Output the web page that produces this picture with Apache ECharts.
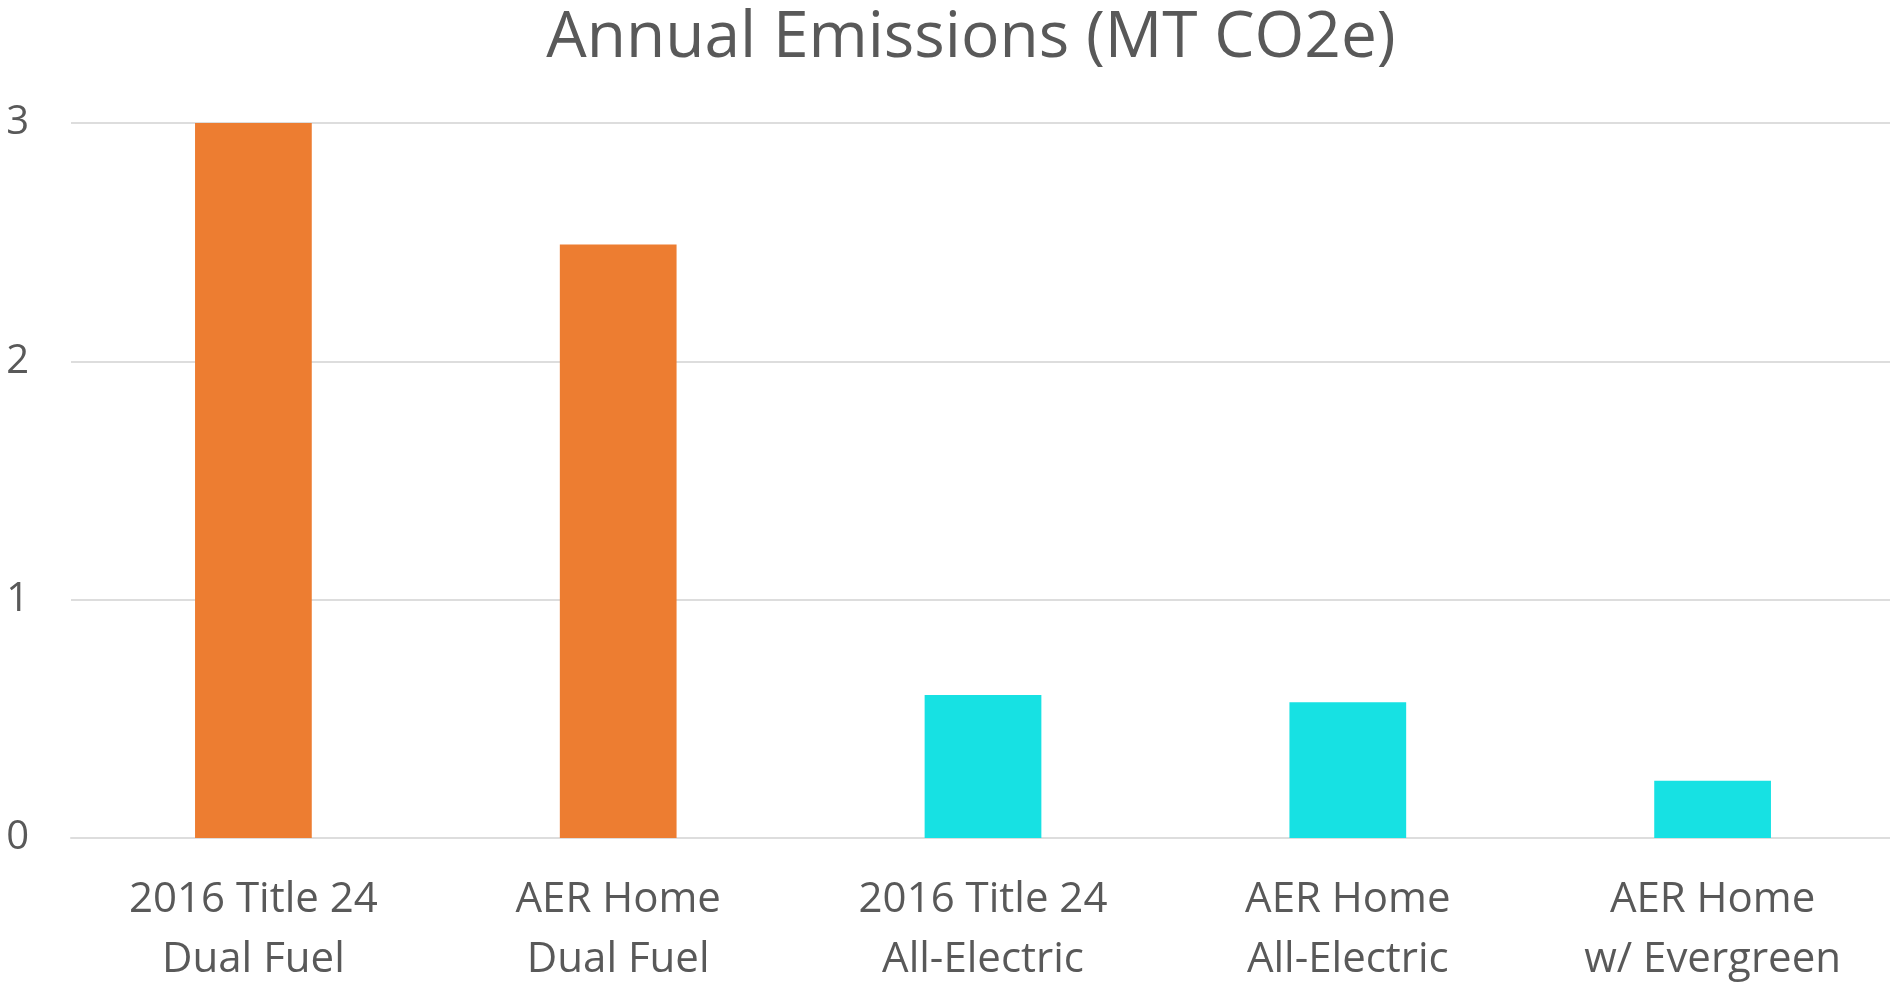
<!DOCTYPE html>
<html>
<head>
<meta charset="utf-8">
<title>Annual Emissions</title>
<script src="https://cdn.jsdelivr.net/npm/echarts@6/dist/echarts.min.js"></script>
<style>
  html, body { margin: 0; padding: 0; background: #fff; }
  #main { width: 1890px; height: 982px; }
</style>
</head>
<body>
<div id="main"></div>
<script>
  // categories and values
  var categories = [
    '2016 Title 24\nDual Fuel',
    'AER Home\nDual Fuel',
    '2016 Title 24\nAll-Electric',
    'AER Home\nAll-Electric',
    'AER Home\nw/ Evergreen'
  ];
  var emissions = [3.0, 2.49, 0.60, 0.57, 0.24];
  var fuelType = ['dual', 'dual', 'electric', 'electric', 'electric'];
  var yTicks = [0, 1, 2, 3];

  var fuelColor = { dual: '#ED7D31', electric: '#17E1E3' };
  var textColor = '#595959';
  var fontName = '"Open Sans", "Noto Sans", sans-serif';

  var myChart = echarts.init(document.getElementById('main'));

  var option = {
    backgroundColor: '#fff',
    animation: false,
    title: {
      text: 'Annual Emissions (MT CO2e)',
      left: 966,
      textAlign: 'center',
      top: 2,
      textStyle: {
        color: textColor,
        fontFamily: fontName,
        fontWeight: 'normal',
        fontSize: 64
      }
    },
    grid: {
      left: 71,
      right: -5,
      top: 123,
      bottom: 144,
      containLabel: false,
      outerBoundsMode: 'none'
    },
    xAxis: {
      type: 'category',
      data: categories,
      axisLine: { show: true, lineStyle: { color: '#DDDDDD', width: 2 } },
      axisTick: { show: false },
      axisLabel: {
        color: textColor,
        fontFamily: fontName,
        fontSize: 42,
        lineHeight: 60,
        margin: 32,
        interval: 0
      }
    },
    yAxis: {
      type: 'value',
      min: yTicks[0],
      max: yTicks[yTicks.length - 1],
      interval: 1,
      axisLine: { show: false },
      axisTick: { show: false },
      splitLine: { lineStyle: { color: '#DDDDDD', width: 2 } },
      axisLabel: {
        color: textColor,
        fontFamily: fontName,
        fontSize: 40,
        margin: 42
      }
    },
    series: [{
      name: 'Annual Emissions',
      type: 'bar',
      barWidth: '32%',
      data: emissions.map(function (v, i) {
        return { value: v, itemStyle: { color: fuelColor[fuelType[i]] } };
      })
    }]
  };

  myChart.setOption(option);
</script>
</body>
</html>
